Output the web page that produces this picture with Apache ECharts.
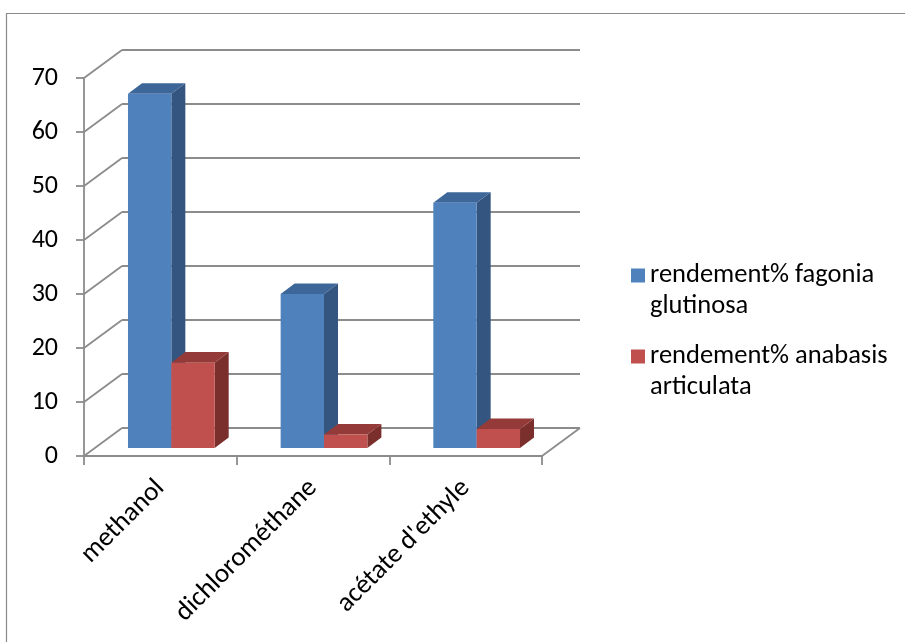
<!DOCTYPE html>
<html>
<head>
<meta charset="utf-8">
<script src="https://cdn.jsdelivr.net/npm/echarts@6/dist/echarts.min.js"></script>
<style>
  html, body { margin: 0; padding: 0; background: #ffffff; }
  #chart { width: 905px; height: 642px; }
</style>
</head>
<body>
<div id="chart"></div>
<script>
// Solvents and extraction yields (%)
const categories = ['methanol', 'dichlorométhane', "acétate d'ethyle"];
const fagoniaValues = [65.6, 28.5, 45.4];
const anabasisValues = [15.8, 2.5, 3.5];
const yTicks = [0, 10, 20, 30, 40, 50, 60, 70];
const seriesNames = ['rendement% fagonia glutinosa', 'rendement% anabasis articulata'];

// Oblique projection used to fake the 3D box (pixels)
const WALL = { dx: 38, dy: -28 };       // depth of the back wall behind the axis plane
const BAR_FRONT = { dx: 11, dy: -8 };   // bars stand a little behind the front plane
const BAR_DEPTH = { dx: 14, dy: -10.6 };// thickness of each bar
const BAR_FRACTION = 0.284;             // bar width relative to a category band

const FONT = 'Carlito, Lato, "Open Sans", sans-serif';
const gridColor = '#8C8C8C';
const palette = [
  { front: '#4F81BD', side: '#34557F', top: '#3D6699' },
  { front: '#C0504D', side: '#7B2F2D', top: '#943B39' }
];

// Back wall lines and left wall diagonals, one per y tick
function renderWall(params, api) {
  const v = api.value(1);
  const cs = params.coordSys;
  const y = api.coord([0, v])[1];
  const xl = cs.x;
  const xr = cs.x + cs.width;
  const st = { stroke: gridColor, lineWidth: 1.8 };
  const children = [
    { type: 'line', shape: { x1: xl, y1: y, x2: xl + WALL.dx, y2: y + WALL.dy }, style: st },
    { type: 'line', shape: { x1: xl + WALL.dx, y1: y + WALL.dy, x2: xr + WALL.dx, y2: y + WALL.dy }, style: st }
  ];
  if (v === 0) {
    children.push({ type: 'line', shape: { x1: xr, y1: y, x2: xr + WALL.dx, y2: y + WALL.dy }, style: st });
  }
  return { type: 'group', children: children };
}

// Cuboid bar: side face, top face, then front face
function makeBarRenderer(k) {
  return function (params, api) {
    const i = api.value(0);
    const v = api.value(1);
    const top = api.coord([i, v]);
    const base = api.coord([i, 0]);
    const band = api.size([1, 0])[0];
    const w = band * BAR_FRACTION;
    const xl = top[0] + (k === 0 ? -w : 0) + BAR_FRONT.dx;
    const xr = xl + w;
    const yt = top[1] + BAR_FRONT.dy;
    const yb = base[1] + BAR_FRONT.dy;
    const ddx = BAR_DEPTH.dx, ddy = BAR_DEPTH.dy;
    const c = palette[k];
    return {
      type: 'group',
      children: [
        { type: 'polygon', shape: { points: [[xr, yt], [xr + ddx, yt + ddy], [xr + ddx, yb + ddy], [xr, yb]] }, style: { fill: c.side } },
        { type: 'polygon', shape: { points: [[xl, yt], [xl + ddx, yt + ddy], [xr + ddx, yt + ddy], [xr, yt]] }, style: { fill: c.top } },
        { type: 'rect', shape: { x: xl, y: yt, width: w, height: yb - yt }, style: { fill: c.front } }
      ]
    };
  };
}

// Legend entry: the name wraps before its last word, and a leading blank
// line keeps the swatch level with the first line of text.
function legendFor(name, top) {
  return {
    data: [name],
    orient: 'vertical',
    left: 631,
    top: top,
    padding: 0,
    icon: 'rect',
    itemWidth: 14,
    itemHeight: 14,
    selectedMode: false,
    formatter: function (n) { return '\n' + n.replace(/ (\S+)$/, '\n$1'); },
    textStyle: { fontFamily: FONT, fontSize: 26.5, lineHeight: 31, color: '#000' }
  };
}

const chart = echarts.init(document.getElementById('chart'), null, { renderer: 'canvas' });
chart.setOption({
  backgroundColor: '#ffffff',
  animation: false,
  graphic: [{
    type: 'rect', silent: true, z: -10,
    shape: { x: 6.5, y: 13.5, width: 1000, height: 1000 },
    style: { fill: null, stroke: '#8A8A8A', lineWidth: 1.2 }
  }],
  grid: { left: 84, top: 78, width: 458, height: 378, containLabel: false },
  legend: [legendFor(seriesNames[0], 229), legendFor(seriesNames[1], 310)],
  xAxis: {
    type: 'category',
    data: categories,
    axisLine: { lineStyle: { color: gridColor, width: 1.8 } },
    axisTick: { show: true, length: 9, lineStyle: { color: gridColor, width: 1.8 } },
    axisLabel: { rotate: 45, interval: 0, margin: 28, fontFamily: FONT, fontSize: 27, color: '#000' },
    splitLine: { show: false }
  },
  yAxis: {
    type: 'value',
    min: 0, max: 70, interval: 10,
    axisLine: { show: true, lineStyle: { color: gridColor, width: 1.8 } },
    axisTick: { show: true, length: 8, lineStyle: { color: gridColor, width: 1.8 } },
    axisLabel: { margin: 26, fontFamily: FONT, fontSize: 26, color: '#000' },
    splitLine: { show: false }
  },
  series: [
    {
      type: 'custom', name: 'wall', silent: true, z: 1,
      renderItem: renderWall,
      data: yTicks.map(function (v) { return [0, v]; })
    },
    {
      type: 'custom', name: seriesNames[0], z: 2,
      itemStyle: { color: palette[0].front },
      renderItem: makeBarRenderer(0),
      data: fagoniaValues.map(function (v, i) { return [i, v]; })
    },
    {
      type: 'custom', name: seriesNames[1], z: 2,
      itemStyle: { color: palette[1].front },
      renderItem: makeBarRenderer(1),
      data: anabasisValues.map(function (v, i) { return [i, v]; })
    }
  ]
});
</script>
</body>
</html>
